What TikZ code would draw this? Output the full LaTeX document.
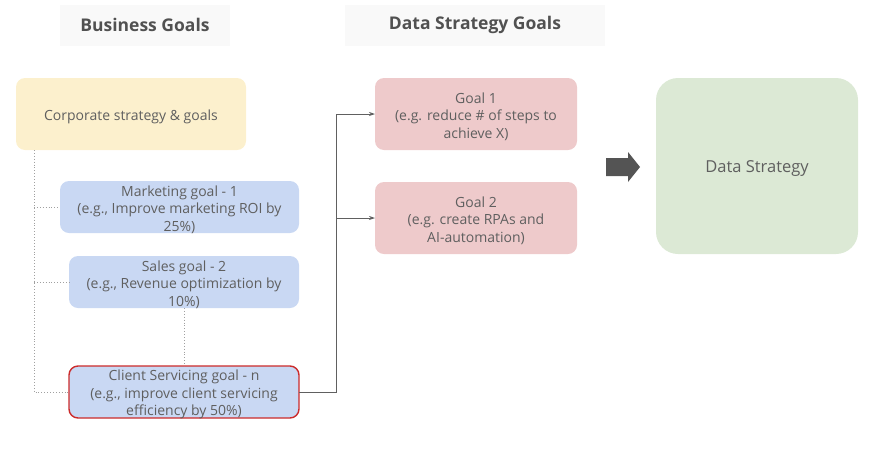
\documentclass[tikz,border=0pt]{standalone}
\usepackage{fontspec}
\setmainfont{Open Sans}
\usetikzlibrary{arrows.meta}
\definecolor{txt}{HTML}{5F5F5F}
\definecolor{hdrfill}{HTML}{F9F9F9}
\definecolor{yel}{HTML}{FCF0CD}
\definecolor{blu}{HTML}{C9D8F3}
\definecolor{pnk}{HTML}{EECACB}
\definecolor{grn}{HTML}{DCE9D5}
\definecolor{redb}{HTML}{CC2B2B}
\definecolor{linec}{HTML}{606060}
\definecolor{arrc}{HTML}{545454}
\definecolor{dotc}{HTML}{A0A0A0}
\begin{document}
\begin{tikzpicture}[x=1pt,y=-1pt,
  every node/.style={inner sep=0pt,outer sep=0pt},
  hdr/.style={fill=hdrfill,text=txt!85!black,font=\fontsize{17.5}{20}\selectfont\bfseries},
  box/.style={rounded corners=9pt},
  lbl/.style={text=txt,align=center,font=\fontsize{14}{17.5}\selectfont},
  dotl/.style={draw=dotc,dotted,line width=0.9pt},
  conn/.style={draw=linec,line width=0.8pt},
  arr/.style={conn,-{Stealth[length=6pt,width=4pt]}}]
\useasboundingbox (0,0) rectangle (880,461);
% headers
\node[hdr,minimum width=170pt,minimum height=41pt] (h1) at (145,25) {Business Goals};
\node[hdr,minimum width=260pt,minimum height=41pt] (h2) at (475,25) {Data Strategy Goals};
% business boxes
\node[box,fill=yel,minimum width=230pt,minimum height=72pt] (corp) at (131,114) {};
\node[lbl] (corp-t) at ([yshift=-2.5pt]corp.center) {Corporate strategy \& goals};
\node[box,fill=blu,minimum width=239pt,minimum height=52pt] (mkt) at (179.5,207) {};
\node[lbl] (mkt-t) at ([yshift=-2.5pt]mkt.center) {Marketing goal - 1\\(e.g., Improve marketing ROI by\\25\%)};
\node[box,fill=blu,minimum width=230pt,minimum height=52pt] (sal) at (184,282) {};
\node[lbl] (sal-t) at ([yshift=-2.5pt]sal.center) {Sales goal - 2\\(e.g., Revenue optimization by\\10\%)};
\node[box,fill=blu,draw=redb,line width=1.4pt,minimum width=230pt,minimum height=52pt] (cli) at (184,392) {};
\node[lbl] (cli-t) at ([yshift=-2.5pt]cli.center) {Client Servicing goal - n\\(e.g., improve client servicing\\efficiency by 50\%)};
% data strategy goal boxes
\node[box,fill=pnk,minimum width=202pt,minimum height=72pt] (g1) at (476,114) {};
\node[lbl] (g1-t) at ([yshift=-2.5pt]g1.center) {Goal 1\\(e.g. reduce \# of steps to\\achieve X)};
\node[box,fill=pnk,minimum width=202pt,minimum height=72pt] (g2) at (476,218) {};
\node[lbl] (g2-t) at ([yshift=-2.5pt]g2.center) {Goal 2\\(e.g. create RPAs and\\AI-automation)};
% data strategy
\node[box,fill=grn,rounded corners=22pt,minimum width=202pt,minimum height=176pt] (ds) at (757,166) {};
\node[lbl,font=\fontsize{16.5}{20}\selectfont] (ds-t) at ([yshift=-3pt]ds.center) {Data Strategy};
% big block arrow
\fill[arrc] (606,158) -- (628,158) -- (628,152) -- (640,167) -- (628,182) -- (628,176) -- (606,176) -- cycle;
% dotted tree
\coordinate (tt) at (34,150);
\coordinate (tb) at (34,392);
\draw[dotl] (tt) -- (tb) -- (cli.west);
\draw[dotl] (34,207) -- (mkt.west);
\draw[dotl] (34,282) -- (sal.west);
\draw[dotl] (sal.south) -- (cli.north);
% solid connectors
\coordinate (jx) at (336,392);
\draw[conn] (cli.east) -- (jx) -- (336,114);
\draw[arr] (336,114) -- (g1.west);
\draw[arr] (336,218) -- (g2.west);
\end{tikzpicture}
\end{document}
